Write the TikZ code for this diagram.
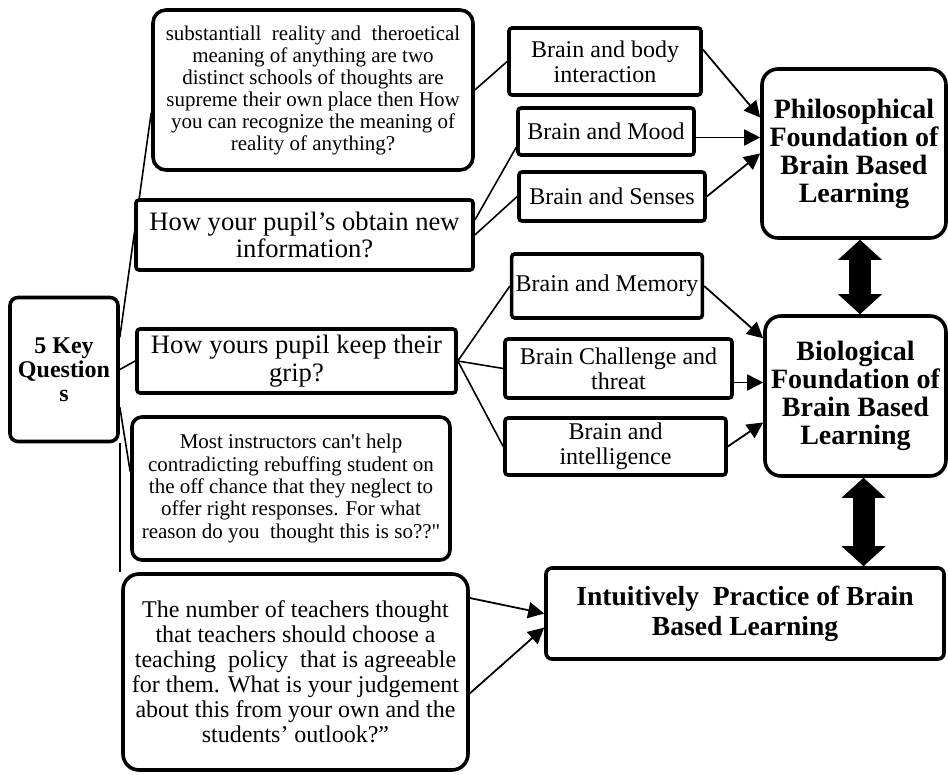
\documentclass[tikz,border=0pt]{standalone}
\usepackage{fontspec}
\setmainfont{Liberation Serif}
\usetikzlibrary{arrows.meta,backgrounds}
\begin{document}
\begin{tikzpicture}[x=0.5pt,y=-0.5pt,
                qbox/.style={draw,line width=1.8pt,fill=white,align=center,inner sep=2pt,rounded corners=1.5pt},
                sbox/.style={qbox,font=\fontsize{12}{12.5}\selectfont},
                fbox/.style={qbox,rounded corners=8pt,font=\fontsize{14}{14}\selectfont\bfseries},
                link/.style={line width=0.8pt},
                feed/.style={line width=0.9pt,-{Triangle[length=8pt,width=8pt]}},
                dbl/.style={line width=11pt,{Triangle[length=10pt,width=22pt,line width=0pt]}-{Triangle[length=10pt,width=22pt,line width=0pt]}}]
                \useasboundingbox (0,0) rectangle (948,775) ;
                \node (key) at (64,369.5) [qbox,rounded corners=4pt,minimum width=54pt,minimum height=72pt,font=\fontsize{12}{12}\selectfont\bfseries] {5 Key\\Question\\s} ;
                \node (A) at (313,90) [qbox,rounded corners=6.5pt,minimum width=160pt,minimum height=80pt,font=\fontsize{10.5}{11}\selectfont] {substantiall~ reality and~ theroetical\\meaning of anything are two\\distinct schools of thoughts are\\supreme their own place then How\\you can recognize the meaning of\\reality of anything?} ;
                \node (B) at (304.5,235) [qbox,minimum width=168.5pt,minimum height=35pt,font=\fontsize{13.3}{13.5}\selectfont] {How your pupil’s obtain new\\information?} ;
                \node (C) at (296.5,361) [qbox,minimum width=159.5pt,minimum height=32pt,font=\fontsize{13.3}{14}\selectfont] {How yours pupil keep their\\grip?} ;
                \node (D) at (291,488.5) [qbox,rounded corners=5pt,minimum width=159pt,minimum height=71.5pt,font=\fontsize{10.5}{11.2}\selectfont] {Most instructors can\textquotesingle t help\\contradicting rebuffing student on\\the off chance that they neglect to\\offer right responses. For what\\reason do you~ thought this is so??\textquotedbl} ;
                \node (E) at (295.5,672) [qbox,rounded corners=8pt,minimum width=172.5pt,minimum height=98pt,font=\fontsize{12}{12.5}\selectfont] {The number of teachers thought\\that teachers should choose a\\teaching~ policy~ that is agreeable\\for them. What is your judgement\\about this from your own and the\\students’ outlook?”} ;
                \node (body) at (605,61.5) [sbox,minimum width=96pt,minimum height=33.5pt] {Brain and body\\interaction} ;
                \node (mood) at (606,131.5) [sbox,minimum width=88pt,minimum height=23.5pt] {Brain and Mood} ;
                \node (senses) at (612,196.5) [sbox,minimum width=93pt,minimum height=24.5pt] {Brain and Senses} ;
                \node (memory) at (607,286) [sbox,minimum width=94pt,minimum height=32pt] {Brain and Memory} ;
                \node (challenge) at (618.5,368.5) [sbox,minimum width=113.5pt,minimum height=29.5pt] {Brain Challenge and\\threat} ;
                \node (intel) at (615.5,446.5) [sbox,minimum width=110.5pt,minimum height=28.5pt] {Brain and\\intelligence} ;
                \node (phil) at (854,153.5) [fbox,minimum width=92pt,minimum height=84.5pt] {Philosophical\\Foundation of\\Brain Based\\Learning} ;
                \node (bio) at (855.5,396) [fbox,minimum width=90.5pt,minimum height=80pt] {Biological\\Foundation of\\Brain Based\\Learning} ;
                \node (intu) at (745,613.5) [fbox,rounded corners=3pt,minimum width=199pt,minimum height=45.5pt,font=\fontsize{13.8}{15}\selectfont\bfseries] {Intuitively~ Practice of Brain\\Based Learning} ;
                \begin{scope}[on background layer]
                \draw [link] (key.30) -- (A.188) ;
                \draw [link] (key.east) -- (C.west) ;
                \draw [link] (key.-34) -- (D.174) ;
                \draw [link] (key.south east) -- (key.south east |- E.north) ;
                \draw [link] (A.east) -- (body.west) ;
                \draw [link] (B.5) -- (mood.190) ;
                \draw [link] (B.east) -- (senses.west) ;
                \draw [link] (C.east) -- (memory.west) ;
                \draw [link] (C.east) -- (challenge.west) ;
                \draw [link] (C.east) -- (intel.west) ;
                \end{scope}
                \draw [feed] (body.7) -- (phil.159) ;
                \draw [feed] ([yshift=-3pt]mood.east) -- ([yshift=-3pt]mood.east -| phil.west) ;
                \draw [feed] (senses.east) -- (phil.west) ;
                \draw [feed] (memory.east) -- (bio.148) ;
                \draw [feed] ([yshift=-7pt]challenge.east) -- ([yshift=-7pt]challenge.east -| bio.west) ;
                \draw [feed] (intel.east) -- (bio.196) ;
                \draw [feed] (E.23) -- (intu.180) ;
                \draw [feed] (E.-7) -- (intu.184) ;
                \draw [dbl] ([xshift=3pt]phil.south) -- ([xshift=3pt]phil.south |- bio.north) ;
                \draw [dbl] ([xshift=4pt]bio.south) -- ([xshift=4pt]bio.south |- intu.north) ;
            \end{tikzpicture}
\end{document}
